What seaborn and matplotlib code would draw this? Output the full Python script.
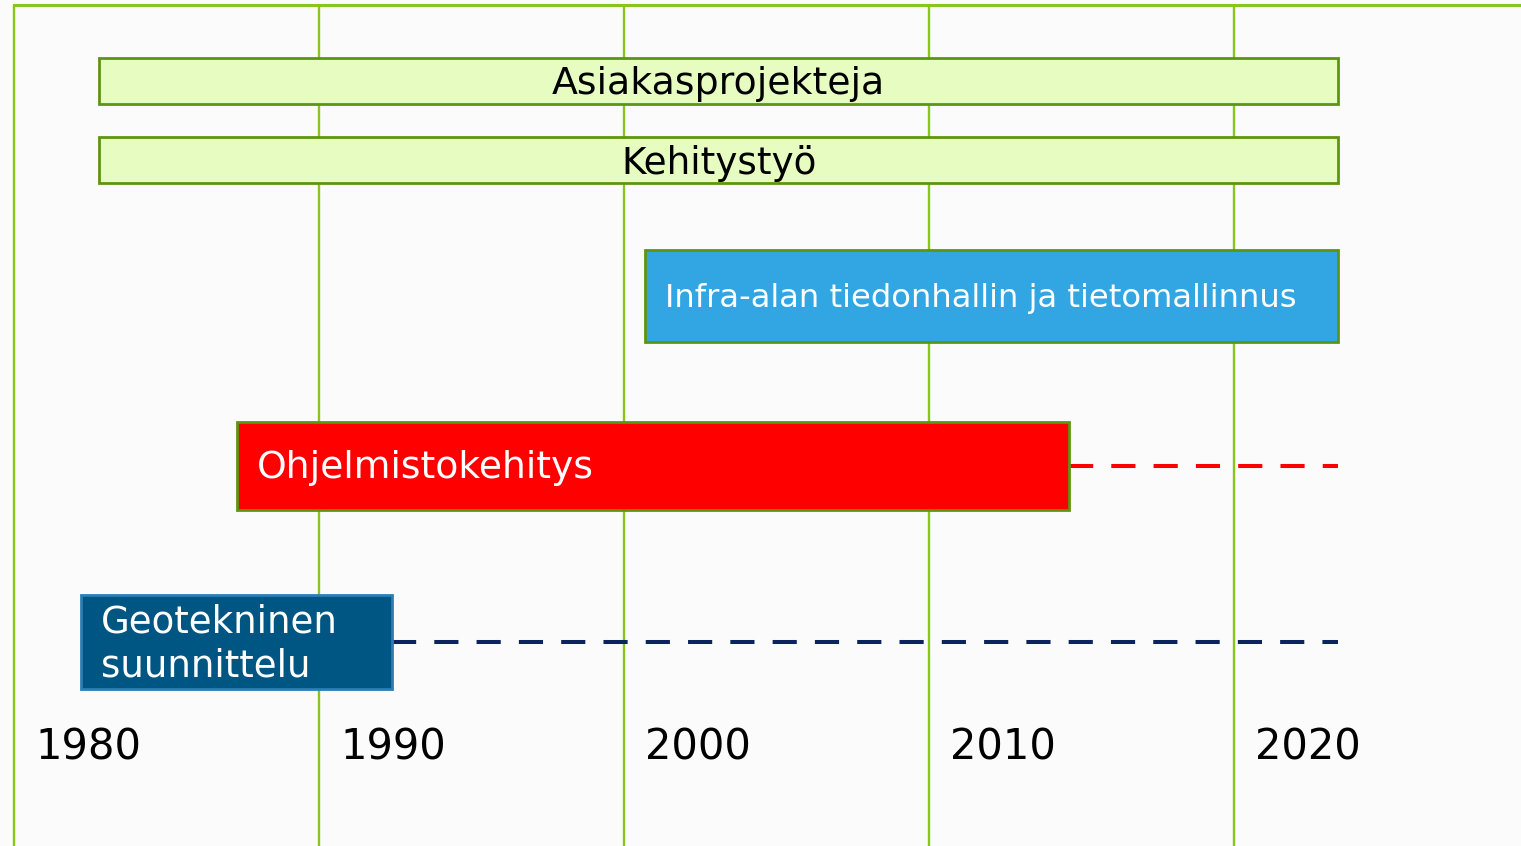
import matplotlib
matplotlib.use("Agg")
import matplotlib.pyplot as plt
import pandas as pd
import seaborn as sns

# Timeline data (years)
labels = ["Asiakasprojekteja", "Kehitystyö", "Infra-alan tiedonhallin ja tietomallinnus",
          "Ohjelmistokehitys", "Geotekninen\nsuunnittelu"]
start_years = [1982.8, 1982.8, 2000.7, 1987.3, 1982.2]
end_years = [2023.4, 2023.4, 2023.4, 2014.6, 1992.4]
continued_to = [None, None, None, 2023.4, 2023.4]
decades = [1980, 1990, 2000, 2010, 2020]
decade_labels = ["1980", "1990", "2000", "2010", "2020"]

# layout (rows in pixel units, top = 0)
row_y = [81, 160, 296, 466, 642]
row_h = [46, 46, 92, 88, 94]
fills = ["#e6fcc0", "#e6fcc0", "#31a6e3", "#ff0000", "#005682"]
edges = ["#5e9510", "#5e9510", "#5e9510", "#5e9510", "#2c7db3"]
text_col = ["black", "black", "white", "white", "white"]
centered = [True, True, False, False, False]
font_sz = [27.3, 26.9, 23.2, 27.2, 26.7]
dash_col = [None, None, None, "#ff0000", "#0b2460"]

sns.set_style("white")
plt.rcParams["font.family"] = ["DejaVu Sans"]

fig = plt.figure(figsize=(15.21, 8.46), dpi=100)
fig.patch.set_facecolor("#fbfbfb")
ax = fig.add_axes([0, 0, 1, 1])
ax.set_facecolor("#fbfbfb")
ax.set_xlim(1979.54, 2029.41)
ax.set_ylim(846, 0)
ax.axis("off")

grid = "#88c619"
for d in decades:
    ax.axvline(d, ymin=0, ymax=1 - 5 / 846, color=grid, lw=1.7, zorder=1)
ax.axhline(5, xmin=(1980 - 1979.54) / (2029.41 - 1979.54), xmax=1, color=grid, lw=2.2, zorder=1)

for d, lab in zip(decades, decade_labels):
    ax.annotate(lab, (d, 748), xytext=(21, 0), textcoords="offset pixels",
                ha="left", va="center", fontsize=30, color="black")

# dashed continuation lines
for i, c in enumerate(continued_to):
    if c is None:
        continue
    seg = pd.DataFrame({"x": [end_years[i], c], "y": [row_y[i], row_y[i]]})
    sns.lineplot(data=seg, x="x", y="y", ax=ax, color=dash_col[i], lw=2.9,
                 dashes=(6, 4.5), zorder=2, legend=False)
    ax.lines[-1].set_dash_capstyle("butt")

ax.barh(row_y, [e - s for s, e in zip(start_years, end_years)], left=start_years,
        height=row_h, color=fills, edgecolor=edges, linewidth=2, zorder=3)

for i, lab in enumerate(labels):
    if centered[i]:
        ax.text((start_years[i] + end_years[i]) / 2, row_y[i] + 3, lab, ha="center",
                va="center", fontsize=font_sz[i], color=text_col[i], zorder=4)
    else:
        ax.annotate(lab, (start_years[i], row_y[i] + 2), xytext=(20, 0),
                    textcoords="offset pixels", ha="left", va="center",
                    fontsize=font_sz[i], color=text_col[i], zorder=4, linespacing=1.22)

fig.savefig("out.png", dpi=100, facecolor=fig.get_facecolor())
